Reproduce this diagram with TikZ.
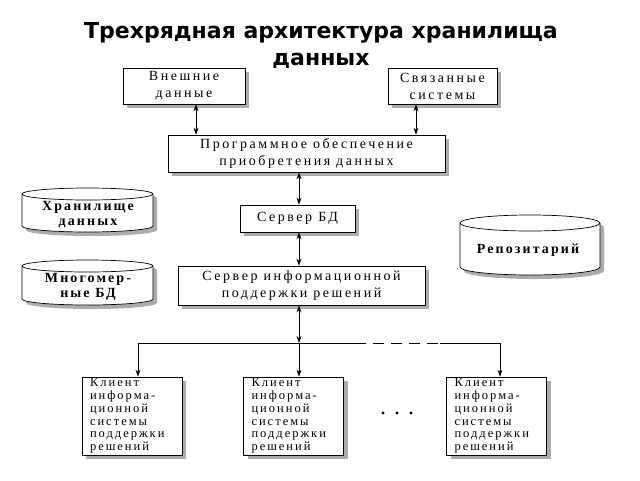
\documentclass[tikz,border=0pt]{standalone}
\usepackage{fontspec}
\setmainfont{Liberation Serif}
\newfontfamily\titlefont{DejaVu Sans}
\newfontfamily\boxfont{Liberation Serif}[LetterSpace=18]
\newfontfamily\clientfont{Liberation Serif}[LetterSpace=16]
\newfontfamily\cylfont{Liberation Serif}[LetterSpace=15]
\usetikzlibrary{arrows.meta,shadows}
\newcommand\mycyl[6]{%
  \fill[gray!65] (#1+4,#2+#6+4) -- (#1+4,#4-#6+4) arc[start angle=180,end angle=0,x radius=#5,y radius=#6] -- (#3+4,#2+#6+4) arc[start angle=0,end angle=-180,x radius=#5,y radius=#6] -- cycle;
  \filldraw[fill=white,line width=0.7pt] (#1,#2+#6) -- (#1,#4-#6) arc[start angle=180,end angle=0,x radius=#5,y radius=#6] -- (#3,#2+#6) arc[start angle=0,end angle=-180,x radius=#5,y radius=#6] -- cycle;
  \draw[line width=0.7pt] (#1,#2+#6) arc[start angle=180,end angle=0,x radius=#5,y radius=#6];
}
\begin{document}
\begin{tikzpicture}[x=1pt,y=-1pt,
  box/.style={draw, fill=white, line width=0.7pt,
    drop shadow={shadow xshift=4pt,shadow yshift=-4pt,fill=gray!65,opacity=1},
    font=\boxfont\fontsize{14}{17}\selectfont, align=center, inner sep=0pt},
  client/.style={box, minimum width=100pt, minimum height=78pt, text width=84pt, align=left,
    font=\clientfont\fontsize{12.5}{12.8}\selectfont},
  cyltext/.style={font=\cylfont\bfseries\fontsize{14}{15}\selectfont, align=center, inner sep=0pt},
  line/.style={line width=0.7pt},
  tip/.tip={Stealth[length=7pt,width=5pt]},
  conn/.style={line, tip-tip},
  arr/.style={line, -tip}]
\useasboundingbox (0,0) rectangle (640,480);
\node[font=\titlefont\bfseries\fontsize{22}{27}\selectfont, align=center] (title) at (321,45) {Трехрядная архитектура хранилища\\данных};

\node[box, minimum width=122pt, minimum height=36pt] (ext) at (184,86) {Внешние\\данные};
\node[box, minimum width=109pt, minimum height=36pt] (rel) at (442.5,86) {Связанные\\системы};
\node[box, minimum width=277pt, minimum height=37pt] (acq) at (306.5,153.5) {Программное обеспечение\\приобретения данных};
\node[box, minimum width=115pt, minimum height=27pt] (db) at (297.5,218.5) {Сервер БД};
\node[box, minimum width=247pt, minimum height=39pt] (dss) at (301.5,285.5) {Сервер информационной\\поддержки решений};

\node[client] (c1) at (132,416) {Клиент\\информа-\\ционной\\системы\\поддержки\\решений};
\node[client] (c2) at (293.5,416) {Клиент\\информа-\\ционной\\системы\\поддержки\\решений};
\node[client] (c3) at (496.5,416) {Клиент\\информа-\\ционной\\системы\\поддержки\\решений};

\mycyl{22}{188}{153}{232}{65.5}{6}
\node[cyltext] (dw) at (88,215) {Хранилище\\данных};
\mycyl{22}{260}{153}{305}{65.5}{6}
\node[cyltext] (mdb) at (88,287) {Многомер-\\ные БД};
\mycyl{460}{215}{600}{275}{70}{8}
\node[cyltext] (rep) at (528,250) {Репозитарий};

\coordinate (xa) at (196,0);
\coordinate (xb) at (416,0);
\coordinate (xc) at (299,0);
\draw[conn] (ext.south -| xa) -- (acq.north -| xa);
\draw[conn] (rel.south -| xb) -- (acq.north -| xb);
\draw[conn] (acq.south -| xc) -- (db.north -| xc);
\draw[conn] (db.south -| xc) -- (dss.north -| xc);

\coordinate (j) at (299,343);
\coordinate (jl) at (138,343);
\coordinate (jr) at (500,343);
\coordinate (d1) at (355,343);
\coordinate (d2) at (440,343);
\draw[conn] (dss.south -| j) -- (j);
\draw[line] (jl) -- (d1);
\draw[line, dash pattern=on 11pt off 7pt] (d1) -- (d2);
\draw[line] (d2) -- (jr);
\draw[arr] (jl) -- (jl |- c1.north);
\draw[arr] (j) -- (j |- c2.north);
\draw[arr] (jr) -- (jr |- c3.north);

\foreach \i/\x in {1/383,2/397,3/411} \fill (\x,413) circle[radius=1.6] coordinate (dot\i);
\end{tikzpicture}
\end{document}
